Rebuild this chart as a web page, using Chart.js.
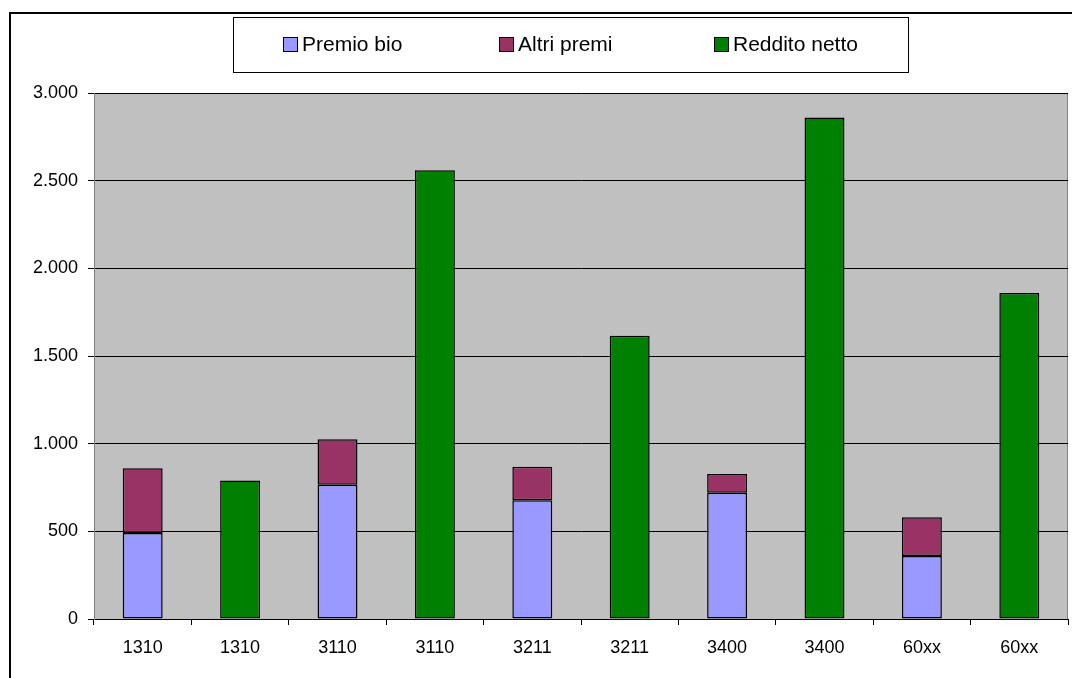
<!DOCTYPE html>
<html>
<head>
<meta charset="utf-8">
<script src="https://cdn.jsdelivr.net/npm/chart.js@4"></script>
<style>
  html, body { margin: 0; padding: 0; background: #ffffff; }
  canvas { display: block; }
</style>
</head>
<body>
<canvas id="chart" width="1072" height="678"></canvas>
<script>
// Farm groups (two columns each: premiums, then net income)
const categories = ['1310', '1310', '3110', '3110', '3211', '3211', '3400', '3400', '60xx', '60xx'];
const premioBio = [490, null, 765, null, 677, null, 720, null, 359, null];
const altriPremi = [370, null, 260, null, 192, null, 107, null, 221, null];
const redditoNetto = [null, 790, null, 2560, null, 1615, null, 2860, null, 1860];
const yTicks = [0, 500, 1000, 1500, 2000, 2500, 3000];

const FONT = "'Liberation Sans', Arial, sans-serif";

function formatIt(v) {
  return String(v).replace(/\B(?=(\d{3})+(?!\d))/g, '.');
}

// Grey plot background with a thin frame
const plotBackground = {
  id: 'plotBackground',
  beforeDraw(chart) {
    const { ctx, chartArea: a } = chart;
    ctx.save();
    ctx.fillStyle = '#C0C0C0';
    ctx.fillRect(a.left, a.top, a.right - a.left, a.bottom - a.top);
    ctx.strokeStyle = '#808080';
    ctx.lineWidth = 1;
    ctx.strokeRect(a.left + 0.5, a.top + 0.5, a.right - a.left - 1, a.bottom - a.top);
    ctx.restore();
  }
};

// Boxed legend across the top and the outer chart frame
const boxedLegend = {
  id: 'boxedLegend',
  afterDraw(chart) {
    const ctx = chart.ctx;
    ctx.save();
    ctx.lineWidth = 2;
    ctx.strokeStyle = '#000000';
    ctx.strokeRect(10, 13, 1100, 700);

    ctx.lineWidth = 1;
    ctx.fillStyle = '#ffffff';
    ctx.fillRect(233.5, 17.5, 675, 55);
    ctx.strokeRect(233.5, 17.5, 675, 55);

    const xs = [283, 499, 714];
    ctx.font = '21px ' + FONT;
    ctx.textBaseline = 'alphabetic';
    chart.data.datasets.forEach((ds, i) => {
      const x = xs[i];
      ctx.fillStyle = ds.backgroundColor;
      ctx.fillRect(x + 0.5, 37.5, 14, 14);
      ctx.strokeStyle = '#000000';
      ctx.strokeRect(x + 0.5, 37.5, 14, 14);
      ctx.fillStyle = '#000000';
      ctx.fillText(ds.label, x + 19, 51);
    });
    ctx.restore();
  }
};

new Chart(document.getElementById('chart'), {
  type: 'bar',
  data: {
    labels: categories,
    datasets: [
      { label: 'Premio bio', data: premioBio, backgroundColor: '#9999FF' },
      { label: 'Altri premi', data: altriPremi, backgroundColor: '#993366' },
      { label: 'Reddito netto', data: redditoNetto, backgroundColor: '#008000' }
    ].map(d => Object.assign(d, {
      borderColor: '#000000',
      borderWidth: 1.5,
      borderSkipped: false,
      categoryPercentage: 1,
      barPercentage: 0.41
    }))
  },
  options: {
    responsive: false,
    animation: false,
    devicePixelRatio: 1,
    layout: { padding: { top: 93, right: 4, left: 0, bottom: 0 } },
    plugins: {
      legend: { display: false },
      title: { display: false },
      tooltip: { enabled: false }
    },
    scales: {
      x: {
        stacked: true,
        afterFit(scale) { scale.height = 59; },
        grid: {
          offset: true,
          drawOnChartArea: false,
          color: '#000000',
          tickLength: 6,
          lineWidth: 1
        },
        border: { color: '#000000', width: 1 },
        ticks: {
          color: '#000000',
          font: { family: FONT, size: 18 },
          padding: 12,
          maxRotation: 0,
          autoSkip: false
        }
      },
      y: {
        stacked: true,
        min: 0,
        max: 3000,
        afterFit(scale) { scale.width = 94; },
        afterBuildTicks(scale) { scale.ticks = yTicks.map(v => ({ value: v })); },
        grid: {
          color: '#000000',
          tickLength: 6,
          lineWidth: 1
        },
        border: { color: '#808080', width: 1 },
        ticks: {
          color: '#000000',
          font: { family: FONT, size: 18 },
          padding: 10,
          callback: v => formatIt(v)
        }
      }
    }
  },
  plugins: [plotBackground, boxedLegend]
});
</script>
</body>
</html>
